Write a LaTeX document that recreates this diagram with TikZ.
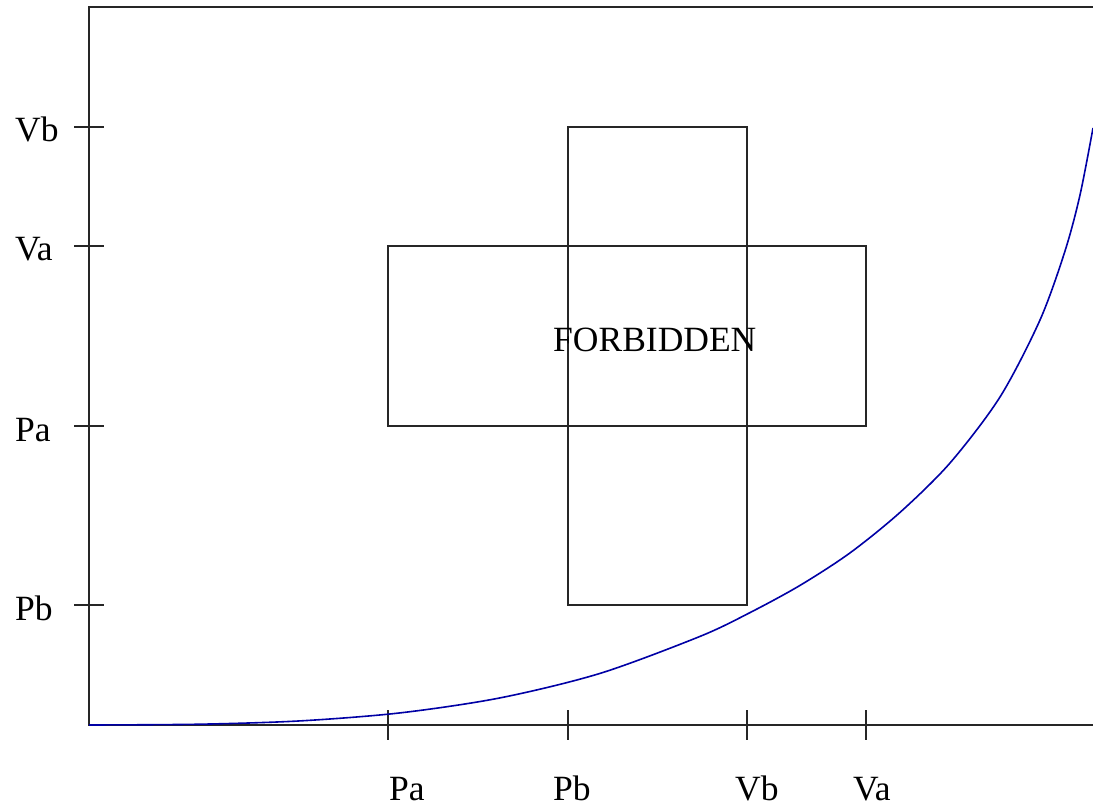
\documentclass[tikz,border=0pt]{standalone}
\usepackage{fontspec}
\setmainfont{Liberation Serif}
\definecolor{curveblue}{RGB}{0,0,165}
\begin{document}
\begin{tikzpicture}[x=1pt,y=-1pt,
  axisline/.style={line width=1.6pt,black!85},
  tickline/.style={line width=1.6pt,black!85},
  boxline/.style={line width=1.6pt,black!85},
  curveline/.style={line width=1.6pt,curveblue},
  lbl/.style={inner sep=0pt,anchor=base west,font=\fontsize{35.5}{40}\selectfont}]
\useasboundingbox (0,0) rectangle (1093,808);
% frame
\coordinate (tl) at (89,7);
\coordinate (tr) at (1093,7);
\coordinate (bl) at (89,725);
\coordinate (br) at (1093,725);
\draw[axisline] (tr) -- (tl) -- (bl) -- (br);
% y ticks
\foreach \n/\yy in {Vb/127,Va/246,Pa/426,Pb/605}{
  \coordinate (yt\n a) at (74,\yy);
  \coordinate (yt\n b) at (104,\yy);
  \draw[tickline] (yt\n a) -- (yt\n b);
}
\node[lbl] (ylVb) at (15,141) {Vb};
\node[lbl] (ylVa) at (15,260) {Va};
\node[lbl] (ylPa) at (15,441) {Pa};
\node[lbl] (ylPb) at (15,620) {Pb};
% x ticks
\foreach \n/\xx in {Pa/388,Pb/568,Vb/747,Va/866}{
  \coordinate (xt\n a) at (\xx,710);
  \coordinate (xt\n b) at (\xx,740);
  \draw[tickline] (xt\n a) -- (xt\n b);
}
\node[lbl] (xlPa) at (389,800) {Pa};
\node[lbl] (xlPb) at (553,800) {Pb};
\node[lbl] (xlVb) at (735,800) {Vb};
\node[lbl] (xlVa) at (853,800) {Va};
% boxes
\coordinate (v1) at (568,127);
\coordinate (v2) at (747,605);
\coordinate (h1) at (388,246);
\coordinate (h2) at (866,426);
\draw[boxline] (v1) rectangle (v2);
\draw[boxline] (h1) rectangle (h2);
\node[lbl] (forb) at (553,351) {FORBIDDEN};
% curve
\draw[curveline] plot[smooth] coordinates {
 (89,725) (200,724.2) (300,720.9) (400,712.9) (500,697.9) (600,673.4)
 (700,636.4) (750,612.6) (800,585.4) (850,552.9) (900,512.4) (950,463)
 (1000,397) (1040,320) (1065,251) (1080,195) (1093,128)};
\end{tikzpicture}
\end{document}
